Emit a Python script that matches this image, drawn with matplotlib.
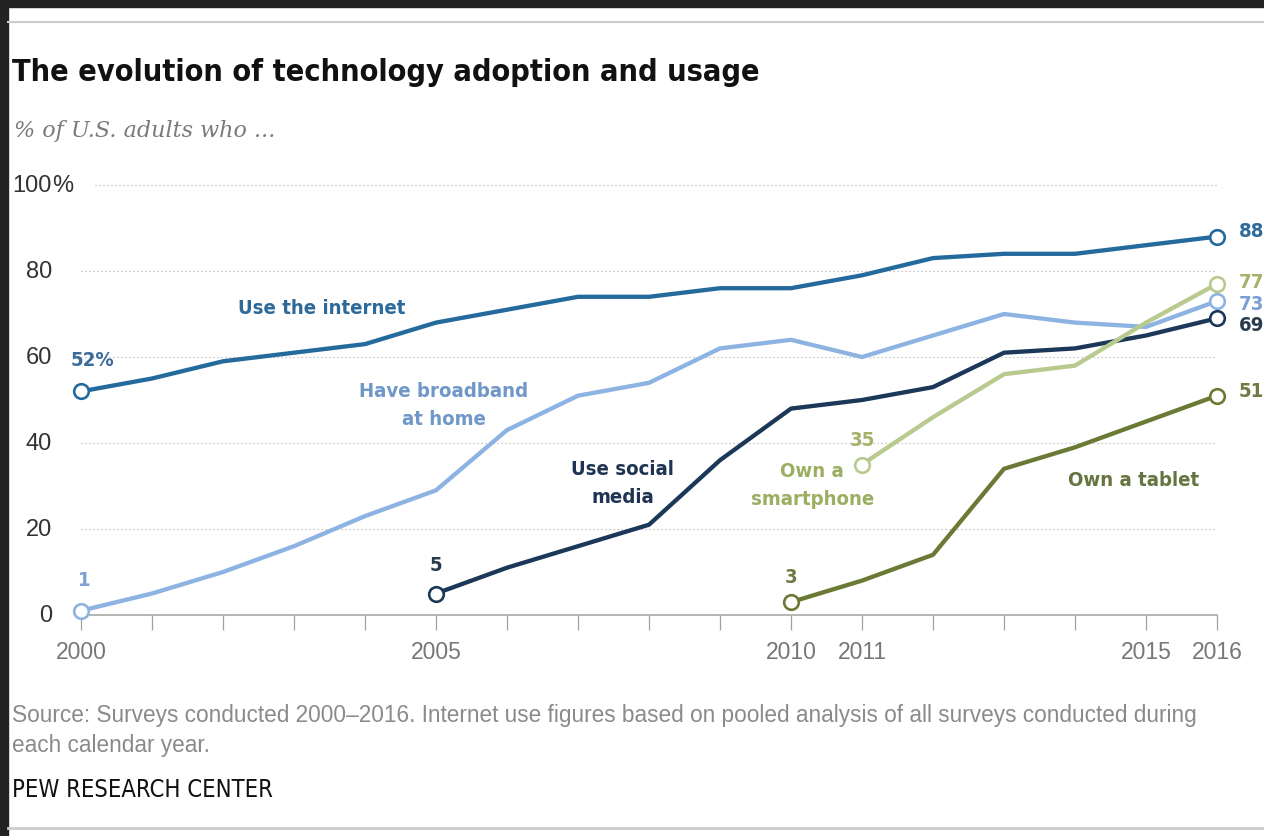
import os
import matplotlib
matplotlib.use("Agg")
import matplotlib.pyplot as plt
from matplotlib import font_manager as fm
from matplotlib.lines import Line2D
from matplotlib.patches import Rectangle
from matplotlib.font_manager import FontProperties
import matplotlib.transforms as mtransforms

# ---------------- data ----------------
years_internet = list(range(2000, 2017))
internet = [52, 55, 59, 61, 63, 68, 71, 74, 74, 76, 76, 79, 83, 84, 84, 86, 88]
years_broadband = list(range(2000, 2017))
broadband = [1, 5, 10, 16, 23, 29, 43, 51, 54, 62, 64, 60, 65, 70, 68, 67, 73]
years_social = list(range(2005, 2017))
social = [5, 11, 16, 21, 36, 48, 50, 53, 61, 62, 65, 69]
years_smartphone = list(range(2011, 2017))
smartphone = [35, 46, 56, 58, 68, 77]
years_tablet = list(range(2010, 2017))
tablet = [3, 8, 14, 34, 39, 45, 51]

series_names = ["Use the internet", "Have broadband\nat home", "Use social\nmedia",
                "Own a\nsmartphone", "Own a tablet"]
x_tick_labels = ["2000", "2005", "2010", "2011", "2015", "2016"]
y_ticks = [0, 20, 40, 60, 80, 100]

title = "The evolution of technology adoption and usage"
subtitle = "% of U.S. adults who ..."
source = ("Source: Surveys conducted 2000\u20132016. Internet use figures based on pooled analysis of all surveys conducted during\n"
          "each calendar year.")
credit = "PEW RESEARCH CENTER"

# ---------------- fonts ----------------
def find_file(patterns):
    files = [f.fname for f in fm.fontManager.ttflist]
    for p in patterns:
        for f in files:
            if os.path.basename(f).lower() == p.lower():
                return f
    return None

narrow_bold_file = find_file(["LiberationSansNarrow-Bold.ttf", "DejaVuSansCondensed-Bold.ttf",
                              "RobotoCondensed-Bold.ttf", "NotoSans-CondensedBold.ttf",
                              "OpenSans-CondensedBold.ttf", "OpenSans_Condensed-Bold.ttf"])
narrow_reg_file = find_file(["LiberationSansNarrow-Regular.ttf", "DejaVuSansCondensed.ttf",
                             "RobotoCondensed-Regular.ttf", "NotoSans-Condensed.ttf",
                             "OpenSans-CondensedRegular.ttf", "OpenSans_Condensed-Regular.ttf"])

def fp_bold_narrow(size):
    if narrow_bold_file:
        return FontProperties(fname=narrow_bold_file, size=size)
    return FontProperties(family=["Liberation Sans", "DejaVu Sans"], weight="bold", size=size)

def fp_reg_narrow(size):
    if narrow_reg_file:
        return FontProperties(fname=narrow_reg_file, size=size)
    return FontProperties(family=["Liberation Sans", "DejaVu Sans"], size=size)

def fp_reg(size):
    return FontProperties(family=["Liberation Sans", "DejaVu Sans"], size=size)

def fp_serif_it(size):
    return FontProperties(family=["DejaVu Serif"], style="italic", size=size)

# ---------------- colours ----------------
C_INT, C_BB, C_SOC, C_SMART, C_TAB = "#256a9c", "#8db3e2", "#1c3859", "#b8ca8e", "#6a7a34"
L_INT, L_BB, L_SOC, L_SMART, L_TAB = "#2d6a9a", "#7097c9", "#1f3452", "#9cae62", "#66743f"

W, H = 1264, 837
fig = plt.figure(figsize=(W / 100, H / 100), dpi=100, facecolor="white")

def P(x, y):
    return (x / W, 1 - y / H)

# frame decorations (dark border top/left, gray rules)
fig.patches.append(Rectangle((0, 0), 8 / W, 1, transform=fig.transFigure, color="#222222", zorder=0))
fig.patches.append(Rectangle((0, 1 - 8 / H), 1, 8 / H, transform=fig.transFigure, color="#222222", zorder=0))
fig.lines.append(Line2D([8 / W, 1], [1 - 23 / H] * 2, transform=fig.transFigure, color="#cccccc", lw=1.5))
fig.lines.append(Line2D([8 / W, 1], [1 - 829 / H] * 2, transform=fig.transFigure, color="#cccccc", lw=2))

# axes: 2000 at px 81, 2016 at px 1217; 0 at px 616, 100 at px 186
ax_left, ax_right, ax_bottom, ax_top = 81, 1217, 616, 186
ax = fig.add_axes([ax_left / W, 1 - ax_bottom / H, (ax_right - ax_left) / W, (ax_bottom - ax_top) / H])
ax.set_xlim(2000, 2016)
ax.set_ylim(0, 100)
ax.set_facecolor("none")
for s in ["top", "right", "left"]:
    ax.spines[s].set_visible(False)
ax.spines["bottom"].set_color("#a0a0a0")
ax.spines["bottom"].set_linewidth(1.1)
ax.set_yticks([])
ax.set_xticks(range(2000, 2017))
ax.set_xticklabels([str(y) if str(y) in x_tick_labels else "" for y in range(2000, 2017)])
ax.tick_params(axis="x", direction="out", length=11, width=0.9, color="#a0a0a0",
               labelcolor="#777777", pad=7)
for lab in ax.get_xticklabels():
    lab.set_fontproperties(fp_reg(16.5))

# gridlines
px_per_year = (ax_right - ax_left) / 16
for v in y_ticks[1:]:
    xs = 2000 + (14 / px_per_year if v == 100 else 0)
    ax.plot([xs, 2016], [v, v], color="#b5b5b5", lw=0.9, ls=(0, (1, 2.2)), zorder=1, clip_on=False)

# y labels
ytr = ax.get_yaxis_transform() + mtransforms.ScaledTranslation(-29 / 100, 0, fig.dpi_scale_trans)
for v in y_ticks:
    ax.text(0, v, str(v), transform=ytr, ha="right", va="center", color="#333333",
            fontproperties=fp_reg(17))
ax.text(0, 100, "%", transform=ytr, ha="left", va="center", color="#333333", fontproperties=fp_reg(17))

# lines
series = [
    (years_broadband, broadband, C_BB, 2),
    (years_internet, internet, C_INT, 3),
    (years_social, social, C_SOC, 4),
    (years_tablet, tablet, C_TAB, 5),
    (years_smartphone, smartphone, C_SMART, 6),
]
for xs, ys, c, z in series:
    ax.plot(xs, ys, color=c, lw=3.1, solid_joinstyle="round", solid_capstyle="round", zorder=z, clip_on=False)
    ax.plot([xs[0], xs[-1]], [ys[0], ys[-1]], ls="none", marker="o", ms=10.5, mfc="white", mec=c,
            mew=1.9, zorder=z + 10, clip_on=False)

fig.canvas.draw()
R = fig.canvas.get_renderer()

def fit(t, width_px):
    bb = t.get_window_extent(renderer=R)
    t.set_fontsize(t.get_fontsize() * width_px / bb.width)

# label font size from "Use the internet" width (~169 px)
tmp = ax.text(2003.39, 71.6, series_names[0], ha="center", va="center", color=L_INT,
              fontproperties=fp_bold_narrow(16), zorder=30)
fit(tmp, 169)
LS = tmp.get_fontsize()

label_pos = [(2003.39, 71.6), (2005.11, 49.0), (2007.63, 30.9), (2010.30, 30.3), (2014.83, 31.4)]
label_cols = [L_INT, L_BB, L_SOC, L_SMART, L_TAB]
for name, (lx, ly), c in list(zip(series_names, label_pos, label_cols))[1:]:
    ax.text(lx, ly, name, ha="center", va="center", color=c, fontproperties=fp_bold_narrow(LS),
            linespacing=1.6, zorder=30)

# start labels (value, pixel offsets)
def off(dx, dy):
    return ax.transData + mtransforms.ScaledTranslation(dx / 100, -dy / 100, fig.dpi_scale_trans)

start_labels = [
    (years_internet[0], internet[0], f"{internet[0]}%", "#3b6b9b", 11, -32),
    (years_broadband[0], broadband[0], f"{broadband[0]}", "#7aa0d4", 3, -31),
    (years_social[0], social[0], f"{social[0]}", "#2b3b4e", 0, -29),
    (years_tablet[0], tablet[0], f"{tablet[0]}", "#6e7a44", 0, -26),
    (years_smartphone[0], smartphone[0], f"{smartphone[0]}", "#a4b36a", 0, -25),
]
for x, y, s, c, dx, dy in start_labels:
    ax.text(x, y, s, transform=off(dx, dy), ha="center", va="center", color=c,
            fontproperties=fp_bold_narrow(LS), zorder=30, clip_on=False)

end_labels = [
    (years_internet[-1], internet[-1], "#2f6a98", -6),
    (years_smartphone[-1], smartphone[-1], "#a4b36a", -2),
    (years_broadband[-1], broadband[-1], "#7aa0d4", 2),
    (years_social[-1], social[-1], "#2b3b4e", 6),
    (years_tablet[-1], tablet[-1], "#6e7a44", -5),
]
for x, y, c, dy in end_labels:
    ax.text(x, y, str(y), transform=off(22, dy), ha="left", va="center", color=c,
            fontproperties=fp_bold_narrow(LS), zorder=30, clip_on=False)

# titles and notes
t1 = fig.text(*P(12, 81), title, ha="left", va="baseline", color="#111111", fontproperties=fp_bold_narrow(22))
fit(t1, 748)
t2 = fig.text(*P(14, 137), subtitle, ha="left", va="baseline", color="#7a7a7a", fontproperties=fp_serif_it(15))
fit(t2, 261)
t3 = fig.text(*P(12, 723), source, ha="left", va="baseline", color="#8a8a8a",
              fontproperties=fp_reg(14), linespacing=1.4)
fig.canvas.draw()
bb = t3.get_window_extent(renderer=R)
t3.set_fontsize(t3.get_fontsize() * 1193 / bb.width)
t3.set_position(P(12, 752))
t4 = fig.text(*P(12, 797), credit, ha="left", va="baseline", color="#111111", fontproperties=fp_reg_narrow(15))
fit(t4, 261)

fig.savefig("out.png", dpi=100, facecolor="white")
